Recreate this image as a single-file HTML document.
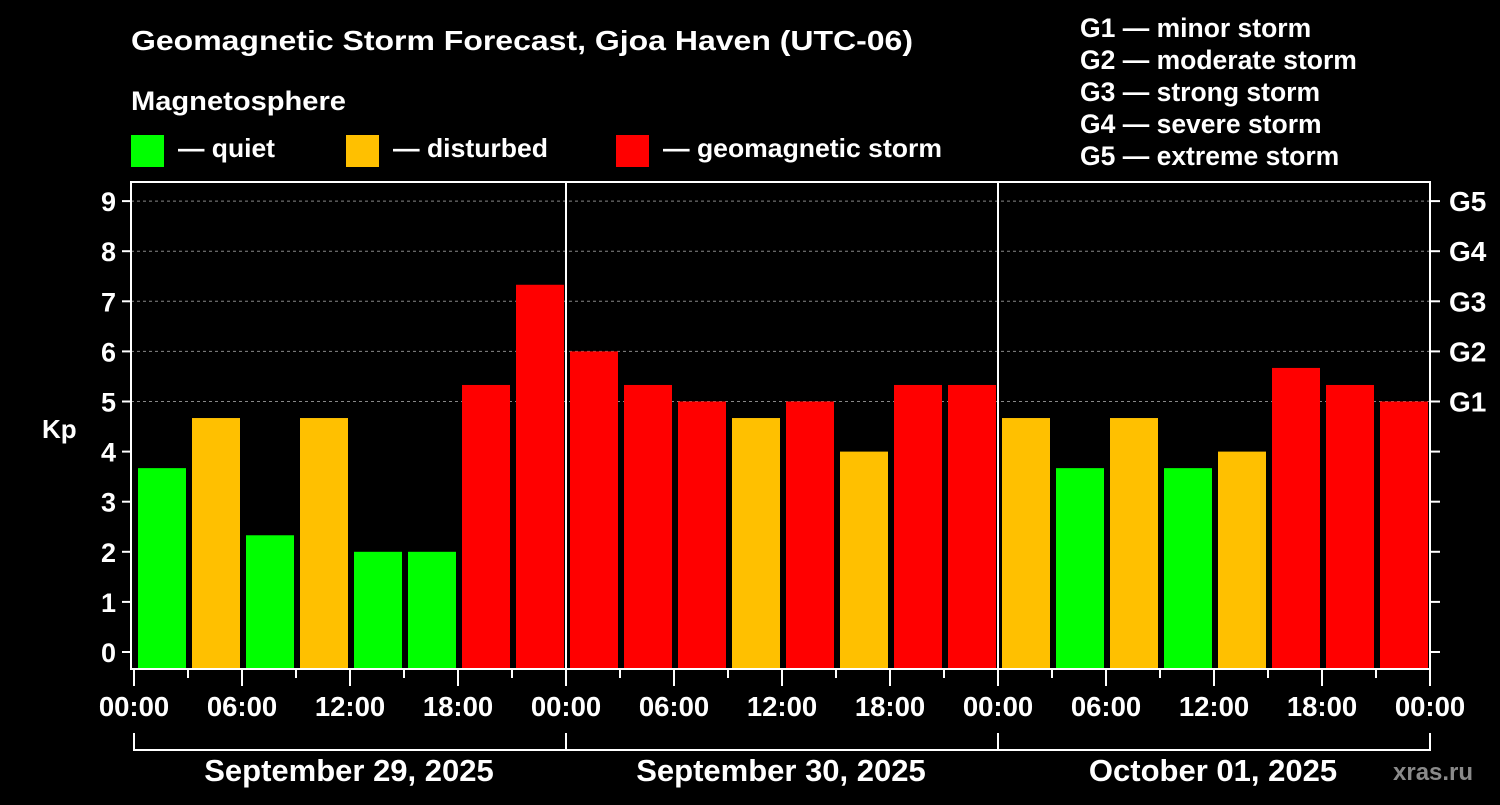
<!DOCTYPE html>
<html><head><meta charset="utf-8"><style>
body{margin:0;background:#000;}
svg text{font-family:"Liberation Sans",Arial,sans-serif;font-weight:bold;fill:#fff;}
</style></head><body>
<svg id="c" width="1500" height="800" xmlns="http://www.w3.org/2000/svg">
<rect width="1500" height="800" fill="#000"/>
<text x="131" y="50" font-size="28" textLength="782" lengthAdjust="spacingAndGlyphs">Geomagnetic Storm Forecast, Gjoa Haven (UTC-06)</text>
<text x="131" y="110" font-size="27" textLength="215" lengthAdjust="spacingAndGlyphs">Magnetosphere</text>
<g><rect x="131" y="135" width="33" height="32" fill="#00ff00"/><text x="178" y="157" font-size="26" textLength="97" lengthAdjust="spacingAndGlyphs">— quiet</text></g>
<g><rect x="346" y="135" width="33" height="32" fill="#ffc000"/><text x="393" y="157" font-size="26" textLength="155" lengthAdjust="spacingAndGlyphs">— disturbed</text></g>
<g><rect x="616" y="135" width="33" height="32" fill="#ff0000"/><text x="663" y="157" font-size="26" textLength="279" lengthAdjust="spacingAndGlyphs">— geomagnetic storm</text></g>
<g font-size="26.5">
<text x="1080" y="37">G1 — minor storm</text>
<text x="1080" y="69">G2 — moderate storm</text>
<text x="1080" y="101">G3 — strong storm</text>
<text x="1080" y="133">G4 — severe storm</text>
<text x="1080" y="165">G5 — extreme storm</text>
</g>
<g id="plot"></g>
<text x="42" y="438" font-size="26">Kp</text>
<text x="1393" y="780" font-size="24" style="fill:#8a8a8a">xras.ru</text>
</svg>
<script>
const kpValues=[3.67,4.67,2.33,4.67,2.0,2.0,5.33,7.33,6.0,5.33,5.0,4.67,5.0,4.0,5.33,5.33,4.67,3.67,4.67,3.67,4.0,5.67,5.33,5.0];
const yTicks=[0,1,2,3,4,5,6,7,8,9];
const gLabels=["G1","G2","G3","G4","G5"];
const gLevels=[5,6,7,8,9];
const xTickLabels=["00:00","06:00","12:00","18:00","00:00","06:00","12:00","18:00","00:00","06:00","12:00","18:00","00:00"];
const dayLabels=["September 29, 2025","September 30, 2025","October 01, 2025"];
const NS="http://www.w3.org/2000/svg";
const L=131,R=1430,T=182,B=669;
const y=v=>652-v*50.1;
const x=i=>134+i*(1296/24);
const g=document.getElementById('plot');
function mk(t,a,p){const e=document.createElementNS(NS,t);for(const k in a)e.setAttribute(k,a[k]);(p||g).appendChild(e);return e;}
yTicks.forEach(v=>{if(v>=5){const l=mk('line',{x1:L,x2:R,y1:y(v),y2:y(v),stroke:'#888','stroke-dasharray':'3,3','stroke-width':1});

}});
kpValues.forEach((v,i)=>{const c=v>=5?'#ff0000':v>=4?'#ffc000':'#00ff00';
const r=mk('rect',{x:x(i)+4,y:y(v),width:48,height:B-y(v),fill:c});

});
[1,2].forEach(d=>{const l=mk('line',{x1:x(d*8),x2:x(d*8),y1:T,y2:B,stroke:'#fff','stroke-width':2});

});
const fr=mk('rect',{x:L,y:T,width:R-L,height:B-T,fill:'none',stroke:'#fff','stroke-width':2});


yTicks.forEach(v=>{mk('line',{x1:122,x2:L,y1:y(v),y2:y(v),stroke:'#fff','stroke-width':2});
mk('line',{x1:R,x2:1440,y1:y(v),y2:y(v),stroke:'#fff','stroke-width':2});
const t=mk('text',{x:116,y:y(v)+10,'font-size':27,'text-anchor':'end'});t.textContent=v;

});
gLabels.forEach((s,i)=>{const t=mk('text',{x:1449,y:y(gLevels[i])+10,'font-size':28});t.textContent=s;

});
for(let i=0;i<=24;i++){const major=i%2==0;
mk('line',{x1:x(i),x2:x(i),y1:B,y2:major?686:678,stroke:'#fff','stroke-width':2});}
xTickLabels.forEach((s,i)=>{const t=mk('text',{x:x(i*2),y:716,'font-size':27.5,'text-anchor':'middle'});t.textContent=s;

});
mk('path',{d:`M${x(0)} 733V750H${x(24)}V733M${x(8)} 733V750M${x(16)} 733V750`,fill:'none',stroke:'#fff','stroke-width':2});
dayLabels.forEach((s,i)=>{const t=mk('text',{x:x(i*8+4)-1,y:781,'font-size':31,'text-anchor':'middle'});t.textContent=s;

});
</script>
</body></html>
